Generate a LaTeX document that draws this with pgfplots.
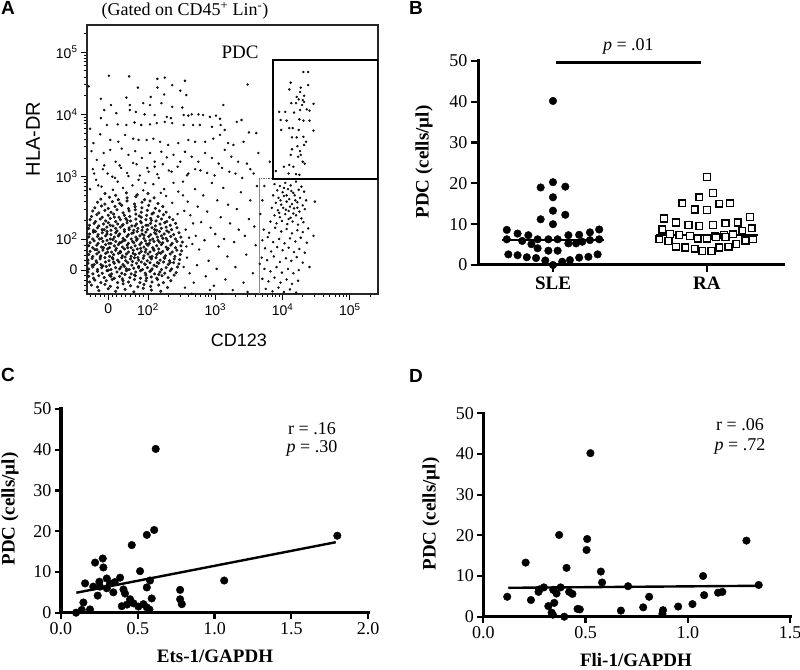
\documentclass[border=0pt]{standalone}
\usepackage{fontspec}
\setmainfont{Liberation Serif}
\setsansfont{Liberation Sans}
\usepackage{pgfplots}
\pgfplotsset{compat=1.18}
\newcommand{\fs}[1]{\fontsize{#1}{#1}\selectfont}

\pgfplotsset{
  dotplot/.style={
    axis x line=bottom, axis y line=left,
    axis line style={-, line width=3pt},
    scale only axis, anchor=south west, clip=false,
    tick align=outside, major tick length=6pt,
    major tick style={line width=2.2pt, black},
    tick label style={font=\fs{18}},
    /pgf/number format/assume math mode=true,
    ymin=0, ymax=50, ytick={0,10,...,50},
  },
  dots/.style={only marks, mark=*, mark size=3.8pt, black},
  events/.style={only marks, mark=*, mark size=1.0pt, mark options={draw=none, fill=black!85}},
  core/.style={only marks, mark=*, mark size=1.35pt, mark options={draw=none, fill=black!80}},
}
% thick axis lines drawn on top
\newcommand{\thickaxes}{%
  \draw[line width=3pt, line cap=rect] (rel axis cs:0,1) -- (rel axis cs:0,0) -- (rel axis cs:1,0);}

\begin{document}
\begin{tikzpicture}
\useasboundingbox (0pt,0pt) rectangle (800pt,669pt);

% ---------------- A: flow cytometry ----------------
\begin{axis}[
  at={(87pt,375pt)}, anchor=south west, scale only axis,
  width=291pt, height=269pt,
  xmin=1.094, xmax=5.418, ymin=1.117, ymax=5.435,
  axis line style={line width=1.3pt, black!85},
  tick pos=left, tick align=outside,
  major tick length=6pt, minor tick length=3pt,
  tick style={black, line width=0.9pt},
  xtick={1.41,2,3,4,5},
  xticklabels={0,10\textsuperscript{2},10\textsuperscript{3},10\textsuperscript{4},10\textsuperscript{5}},
  ytick={1.5,2,3,4,5},
  yticklabels={0,10\textsuperscript{2},10\textsuperscript{3},10\textsuperscript{4},10\textsuperscript{5}},
  minor xtick={1.15,1.22,1.29,1.35,1.47,1.53,1.60,1.67,1.74,1.81,1.88,1.94,
    2.30,2.48,2.60,2.70,2.78,2.85,2.90,2.95,3.30,3.48,3.60,3.70,3.78,3.85,3.90,3.95,
    4.30,4.48,4.60,4.70,4.78,4.85,4.90,4.95,5.30},
  minor ytick={1.18,1.26,1.34,1.42,1.58,1.66,1.74,1.82,1.90,
    2.30,2.48,2.60,2.70,2.78,2.85,2.90,2.95,3.30,3.48,3.60,3.70,3.78,3.85,3.90,3.95,
    4.30,4.48,4.60,4.70,4.78,4.85,4.90,4.95,5.30},
  tick label style={font=\sffamily\fs{14}},
]
% main cluster
\addplot[core] coordinates {
(1.27,1.17) (1.41,1.20) (1.52,1.16) (1.66,1.19) (1.79,1.15) (1.93,1.21) (2.05,1.18) (2.19,1.16)
(1.16,1.26) (1.25,1.23) (1.36,1.27) (1.44,1.24) (1.55,1.22) (1.63,1.28) (1.74,1.25) (1.85,1.23) (1.94,1.27) (2.04,1.24) (2.16,1.26) (2.29,1.22)
(1.13,1.31) (1.21,1.34) (1.30,1.30) (1.38,1.33) (1.47,1.35) (1.55,1.30) (1.63,1.33) (1.71,1.31) (1.80,1.35) (1.88,1.30) (1.97,1.33) (2.06,1.31) (2.14,1.35) (2.23,1.30) (2.34,1.33)
(1.12,1.40) (1.19,1.37) (1.27,1.41) (1.35,1.38) (1.43,1.42) (1.50,1.37) (1.58,1.40) (1.66,1.43) (1.73,1.38) (1.81,1.41) (1.89,1.37) (1.97,1.42) (2.05,1.39) (2.13,1.37) (2.21,1.41) (2.30,1.38) (2.39,1.42)
(1.11,1.47) (1.18,1.44) (1.25,1.48) (1.32,1.45) (1.39,1.49) (1.46,1.44) (1.54,1.47) (1.61,1.45) (1.68,1.49) (1.75,1.44) (1.82,1.47) (1.89,1.49) (1.96,1.45) (2.03,1.48) (2.10,1.44) (2.18,1.47) (2.25,1.45) (2.33,1.49) (2.42,1.46)
(1.12,1.52) (1.18,1.55) (1.25,1.51) (1.31,1.54) (1.38,1.56) (1.45,1.51) (1.52,1.54) (1.58,1.52) (1.65,1.56) (1.72,1.51) (1.79,1.53) (1.86,1.56) (1.92,1.51) (1.99,1.54) (2.06,1.52) (2.13,1.56) (2.20,1.51) (2.27,1.54) (2.35,1.52) (2.44,1.55)
(1.11,1.61) (1.17,1.58) (1.24,1.62) (1.30,1.59) (1.37,1.63) (1.43,1.58) (1.50,1.61) (1.57,1.63) (1.63,1.59) (1.70,1.62) (1.76,1.58) (1.83,1.61) (1.90,1.63) (1.96,1.59) (2.03,1.62) (2.09,1.58) (2.16,1.61) (2.23,1.63) (2.30,1.59) (2.38,1.62) (2.46,1.60)
(1.11,1.66) (1.17,1.69) (1.23,1.65) (1.29,1.68) (1.36,1.70) (1.42,1.65) (1.48,1.68) (1.55,1.66) (1.61,1.70) (1.67,1.65) (1.74,1.68) (1.80,1.70) (1.86,1.66) (1.93,1.69) (1.99,1.65) (2.05,1.68) (2.12,1.70) (2.18,1.66) (2.25,1.69) (2.32,1.65) (2.39,1.68) (2.47,1.67)
(1.12,1.75) (1.18,1.72) (1.24,1.76) (1.30,1.73) (1.37,1.77) (1.43,1.72) (1.49,1.75) (1.56,1.77) (1.62,1.73) (1.68,1.76) (1.75,1.72) (1.81,1.75) (1.87,1.77) (1.94,1.73) (2.00,1.76) (2.06,1.72) (2.13,1.75) (2.19,1.77) (2.26,1.73) (2.33,1.76) (2.40,1.72) (2.48,1.75)
(1.14,1.80) (1.21,1.83) (1.27,1.79) (1.33,1.82) (1.40,1.84) (1.46,1.79) (1.52,1.82) (1.59,1.80) (1.65,1.84) (1.71,1.79) (1.78,1.82) (1.84,1.84) (1.90,1.80) (1.97,1.83) (2.03,1.79) (2.09,1.82) (2.16,1.84) (2.22,1.80) (2.29,1.83) (2.36,1.79) (2.43,1.82) (2.50,1.81)
(1.12,1.89) (1.18,1.86) (1.24,1.90) (1.31,1.87) (1.37,1.91) (1.43,1.86) (1.50,1.89) (1.56,1.91) (1.62,1.87) (1.69,1.90) (1.75,1.86) (1.81,1.89) (1.88,1.91) (1.94,1.87) (2.00,1.90) (2.07,1.86) (2.13,1.89) (2.20,1.91) (2.27,1.87) (2.34,1.90) (2.41,1.86) (2.49,1.89)
(1.14,1.94) (1.20,1.97) (1.26,1.93) (1.33,1.96) (1.39,1.98) (1.45,1.93) (1.52,1.96) (1.58,1.94) (1.64,1.98) (1.71,1.93) (1.77,1.96) (1.83,1.98) (1.90,1.94) (1.96,1.97) (2.02,1.93) (2.09,1.96) (2.15,1.98) (2.22,1.94) (2.29,1.97) (2.36,1.93) (2.43,1.96) (2.51,1.95)
(1.12,2.03) (1.18,2.00) (1.25,2.04) (1.31,2.01) (1.37,2.05) (1.44,2.00) (1.50,2.03) (1.56,2.05) (1.63,2.01) (1.69,2.04) (1.75,2.00) (1.82,2.03) (1.88,2.05) (1.94,2.01) (2.01,2.04) (2.07,2.00) (2.14,2.03) (2.20,2.05) (2.27,2.01) (2.34,2.04) (2.41,2.00) (2.49,2.03)
(1.13,2.08) (1.19,2.11) (1.26,2.07) (1.32,2.10) (1.39,2.12) (1.45,2.07) (1.52,2.10) (1.58,2.08) (1.65,2.12) (1.71,2.07) (1.78,2.10) (1.84,2.12) (1.91,2.08) (1.97,2.11) (2.04,2.07) (2.10,2.10) (2.17,2.12) (2.24,2.08) (2.31,2.11) (2.38,2.07) (2.46,2.10)
(1.12,2.17) (1.19,2.14) (1.25,2.18) (1.32,2.15) (1.39,2.19) (1.45,2.14) (1.52,2.17) (1.59,2.19) (1.65,2.15) (1.72,2.18) (1.79,2.14) (1.85,2.17) (1.92,2.19) (1.99,2.15) (2.06,2.18) (2.13,2.14) (2.20,2.17) (2.27,2.19) (2.35,2.15) (2.43,2.18)
(1.13,2.22) (1.20,2.25) (1.27,2.21) (1.34,2.24) (1.41,2.26) (1.48,2.21) (1.55,2.24) (1.62,2.22) (1.69,2.26) (1.76,2.21) (1.83,2.24) (1.90,2.26) (1.97,2.22) (2.04,2.25) (2.11,2.21) (2.18,2.24) (2.25,2.26) (2.33,2.22) (2.41,2.25)
(1.14,2.31) (1.22,2.28) (1.29,2.32) (1.37,2.29) (1.44,2.33) (1.52,2.28) (1.59,2.31) (1.67,2.33) (1.74,2.29) (1.82,2.32) (1.89,2.28) (1.97,2.31) (2.04,2.33) (2.12,2.29) (2.20,2.32) (2.28,2.28) (2.37,2.31)
(1.16,2.36) (1.24,2.39) (1.32,2.35) (1.41,2.38) (1.49,2.40) (1.57,2.35) (1.65,2.38) (1.73,2.36) (1.82,2.40) (1.90,2.35) (1.98,2.38) (2.06,2.40) (2.15,2.36) (2.23,2.39) (2.32,2.35)
(1.18,2.45) (1.27,2.42) (1.36,2.46) (1.45,2.43) (1.54,2.47) (1.63,2.42) (1.72,2.45) (1.81,2.47) (1.90,2.43) (1.99,2.46) (2.08,2.42) (2.17,2.45) (2.27,2.43)
(1.21,2.50) (1.31,2.53) (1.41,2.49) (1.51,2.52) (1.61,2.54) (1.71,2.49) (1.81,2.52) (1.91,2.50) (2.01,2.54) (2.11,2.49) (2.22,2.52)
(1.25,2.59) (1.36,2.56) (1.47,2.60) (1.58,2.57) (1.69,2.61) (1.80,2.56) (1.91,2.59) (2.03,2.61) (2.15,2.57)
(1.30,2.64) (1.43,2.67) (1.56,2.63) (1.69,2.66) (1.82,2.68) (1.95,2.63) (2.09,2.66)
(1.36,2.73) (1.52,2.70) (1.68,2.74) (1.84,2.71) (2.00,2.73)
};
% denser core
\addplot[core] coordinates {
(1.33,1.57) (1.41,1.50) (1.49,1.63) (1.60,1.55) (1.68,1.52) (1.77,1.64) (1.86,1.54) (1.95,1.60) (2.05,1.50) (2.14,1.62)
(1.29,1.71) (1.40,1.79) (1.47,1.70) (1.59,1.78) (1.66,1.71) (1.78,1.77) (1.85,1.70) (1.96,1.79) (2.03,1.71) (2.16,1.78) (2.24,1.70)
(1.34,1.86) (1.42,1.93) (1.53,1.85) (1.61,1.95) (1.70,1.86) (1.79,1.94) (1.89,1.85) (1.98,1.92) (2.08,1.84) (2.17,1.95)
(1.28,2.00) (1.39,2.08) (1.48,1.99) (1.57,2.07) (1.66,1.98) (1.76,2.09) (1.84,2.00) (1.94,2.06) (2.03,1.98) (2.12,2.08) (2.22,2.01)
(1.35,2.15) (1.44,2.22) (1.54,2.13) (1.63,2.23) (1.72,2.15) (1.81,2.21) (1.91,2.14) (2.00,2.22) (2.10,2.15)
(1.20,1.59) (1.24,1.83) (1.22,2.12) (2.30,1.85) (2.33,1.62) (2.28,2.13)
(1.45,1.40) (1.62,1.36) (1.80,1.42) (1.98,1.37) (2.16,1.43)
(1.50,2.35) (1.69,2.30) (1.87,2.37) (2.05,2.30)
};
% upper band and sparse events
\addplot[events] coordinates {
(1.14,2.80) (1.23,2.95) (1.31,2.84) (1.40,3.05) (1.48,2.79) (1.55,2.92) (1.63,2.82) (1.71,3.01) (1.77,2.86) (1.86,2.95)
(1.93,2.78) (2.01,3.08) (2.08,2.88) (2.16,2.98) (2.24,2.80) (2.31,3.10) (2.38,2.90) (2.45,2.76) (1.18,3.12) (1.35,3.18)
(1.60,3.14) (1.83,3.20) (2.10,3.16) (2.27,2.69) (2.36,2.58) (2.44,2.40) (1.26,2.86) (1.51,2.98) (1.96,2.90) (2.19,2.74)
(1.20,3.05) (1.33,3.12) (1.47,3.00) (1.58,3.18) (1.69,3.06) (1.78,3.22) (1.88,3.02) (1.99,3.14) (2.14,3.04) (2.22,3.20)
(2.35,3.08) (2.44,3.16) (2.58,3.02) (2.70,3.12) (2.88,3.06) (3.10,3.14) (3.30,3.05) (3.52,3.12)
(1.42,4.62) (1.72,4.61) (2.14,4.57) (2.25,4.59) (1.85,4.43) (2.14,4.43) (2.36,4.47) (2.55,4.54) (2.48,4.38) (2.24,4.32)
(2.57,4.31) (3.48,4.48) (1.68,4.27) (2.04,4.28) (1.45,4.15) (1.73,4.15) (1.93,4.18) (2.03,4.15) (2.20,4.18) (2.36,4.12)
(2.51,4.11) (3.12,4.15) (1.35,4.07) (1.53,4.02) (1.73,4.07) (1.82,4.04) (1.95,4.00) (2.10,3.99) (2.28,3.96) (2.34,3.94)
(2.53,3.99) (2.60,3.98) (2.65,4.00) (2.75,4.00) (2.82,3.99) (2.92,3.96) (3.01,3.98) (3.07,3.93) (3.32,3.88) (3.39,3.91)
(1.30,3.94) (1.39,3.83) (1.55,3.84) (1.68,3.83) (1.80,3.87) (1.90,3.83) (2.03,3.84) (2.13,3.86) (2.25,3.88) (2.36,3.86)
(2.53,3.83) (2.67,3.83) (2.77,3.83) (2.95,3.80) (3.08,3.83) (3.14,3.75) (3.50,3.71) (3.61,3.70) (1.14,3.77) (1.19,3.54)
(1.29,3.68) (1.44,3.59) (1.56,3.56) (1.66,3.67) (1.78,3.61) (1.86,3.59) (1.98,3.59) (2.08,3.61) (2.18,3.56) (2.30,3.51)
(2.45,3.54) (2.60,3.59) (2.70,3.56) (2.85,3.56) (2.97,3.61) (3.07,3.67) (3.19,3.54) (3.27,3.51) (3.42,3.56) (1.16,3.41)
(1.24,3.27) (1.34,3.38) (1.44,3.43) (1.52,3.24) (1.61,3.45) (1.71,3.35) (1.81,3.41) (1.91,3.30) (2.03,3.38) (2.10,3.24)
(2.20,3.40) (2.28,3.31) (2.38,3.35) (2.48,3.24) (2.55,3.40) (2.65,3.32) (2.75,3.24) (2.85,3.38) (2.95,3.30) (3.05,3.21)
(3.14,3.43) (3.24,3.32) (3.34,3.24) (3.47,3.21) (3.64,3.38) (3.81,3.24) (1.12,4.45) (1.30,4.25)
};
% events between the two clusters
\addplot[events] coordinates {
(2.55,1.22) (2.62,1.45) (2.58,1.70) (2.66,1.92) (2.56,2.15) (2.63,2.38) (2.59,2.60) (2.70,2.80) (2.68,1.30) (2.73,1.58)
(2.76,1.83) (2.71,2.05) (2.79,2.27) (2.74,2.52) (2.82,2.70) (2.86,1.40) (2.90,1.65) (2.84,1.98) (2.93,2.18) (2.88,2.44)
(2.95,2.90) (2.98,1.25) (3.02,1.52) (3.05,1.88) (3.00,2.08) (3.08,2.35) (3.03,2.62) (3.12,2.82) (3.15,1.35) (3.18,1.72)
(3.13,2.00) (3.22,2.25) (3.19,2.55) (3.26,1.18) (3.30,1.55) (3.28,1.95) (3.35,2.15) (3.32,2.48) (3.38,2.75) (3.42,1.30)
(3.46,1.75) (3.44,2.05) (3.50,2.32) (3.52,2.62) (3.56,1.45) (3.60,1.90) (3.58,2.20) (3.62,2.85) (2.52,2.92) (2.60,3.05)
(2.78,3.10) (2.99,3.02) (3.21,3.08) (3.40,2.98) (3.57,3.05) (2.65,1.12) (2.92,1.18) (3.10,1.12) (3.48,1.15) (2.61,2.02)
(2.67,2.25) (2.53,1.55) (2.57,1.88) (2.54,2.45) (2.52,2.70)
};
% CD123+ cluster
\addplot[events] coordinates {
(3.88,2.88) (3.96,2.85) (4.04,2.90) (4.12,2.86) (4.20,2.92) (4.28,2.84) (3.92,2.78) (4.00,2.75) (4.08,2.80) (4.16,2.74)
(4.24,2.79) (4.32,2.76) (3.86,2.70) (3.94,2.66) (4.02,2.69) (4.10,2.64) (4.18,2.70) (4.26,2.66) (4.35,2.62) (3.90,2.58)
(3.98,2.55) (4.06,2.60) (4.14,2.56) (4.22,2.59) (4.30,2.54) (3.84,2.50) (3.93,2.46) (4.01,2.50) (4.09,2.45) (4.17,2.49)
(4.25,2.44) (4.33,2.48) (3.88,2.38) (3.96,2.35) (4.04,2.40) (4.12,2.34) (4.20,2.38) (4.28,2.33) (3.82,2.28) (3.91,2.25)
(3.99,2.29) (4.07,2.24) (4.15,2.28) (4.23,2.23) (4.31,2.27) (4.02,2.82) (4.13,2.77) (4.06,2.70) (4.19,2.62) (3.97,2.62)
(4.11,2.52) (4.05,2.47) (4.16,2.41) (3.95,2.42) (4.22,2.50) (4.09,2.32)
(3.72,2.15) (3.80,2.10) (3.89,2.18) (3.98,2.12) (4.06,2.16) (4.14,2.09) (4.22,2.14) (4.30,2.11) (4.38,2.17) (3.70,1.98)
(3.78,2.03) (3.86,1.95) (3.95,2.00) (4.03,1.93) (4.11,2.01) (4.19,1.96) (4.27,2.02) (4.36,1.94) (3.74,1.85) (3.83,1.80)
(3.92,1.87) (4.00,1.82) (4.09,1.86) (4.17,1.79) (4.25,1.84) (4.33,1.78) (3.69,1.70) (3.77,1.66) (3.87,1.72) (3.96,1.63)
(4.05,1.69) (4.13,1.65) (4.21,1.71) (4.30,1.62) (3.73,1.52) (3.82,1.48) (3.91,1.55) (3.99,1.46) (4.08,1.52) (4.16,1.45)
(4.24,1.50) (4.40,1.55) (3.70,1.36) (3.79,1.32) (3.88,1.38) (3.97,1.30) (4.06,1.35) (4.14,1.28) (4.23,1.33) (3.75,1.20)
(3.85,1.16) (3.94,1.22) (4.02,1.15) (4.11,1.19) (4.20,1.14) (4.46,2.05) (4.48,2.60) (3.67,2.40) (3.70,2.62) (3.73,2.85)
(3.66,1.60)
};
% PDC gate
\addplot[events] coordinates {
(4.31,4.68) (4.38,4.68) (4.12,4.51) (4.27,4.43) (4.38,4.47) (4.10,4.40) (4.26,4.36) (4.21,4.28) (4.32,4.30) (4.24,4.24)
(4.30,4.23) (4.32,4.20) (4.13,4.18) (4.20,4.18) (4.29,4.15) (4.46,4.17) (3.95,4.04) (4.04,4.04) (4.26,4.07) (4.36,4.08)
(4.40,4.06) (4.17,4.03) (3.97,3.91) (4.06,3.90) (4.25,3.92) (4.31,3.90) (4.40,3.90) (4.10,3.78) (4.15,3.78) (4.24,3.75)
(3.98,3.75) (4.46,3.74) (4.14,3.63) (4.21,3.63) (4.31,3.64) (4.35,3.56) (4.32,3.51) (4.14,3.44) (4.26,3.41) (4.27,3.35)
(4.23,3.32) (4.12,3.35) (4.30,3.24) (4.33,3.21) (4.10,3.19) (4.16,3.16) (4.02,3.16) (4.22,3.49) (4.09,3.05) (4.20,3.04)
(4.25,3.03) (3.90,3.09)
};
\draw[black!45, line width=0.7pt] (axis cs:3.654,1.117) -- (axis cs:3.654,2.974);
\draw[black!60, line width=0.7pt, densely dotted] (axis cs:3.654,2.974) -- (axis cs:3.857,2.974);
\draw[line width=2.6pt] (axis cs:3.857,2.963) rectangle (axis cs:5.418,4.873);
\end{axis}
\node[font=\fs{18}, anchor=base] at (185pt,653pt) {(Gated on CD45\textsuperscript{+} Lin\textsuperscript{-})};
\node[font=\fs{19}, anchor=base] at (240pt,610pt) {PDC};
\node[font=\sffamily\fs{20}, rotate=90] at (33pt,530pt) {HLA-DR};
\node[font=\sffamily\fs{18}] at (239pt,329pt) {CD123};

% ---------------- B: SLE vs RA ----------------
\begin{axis}[dotplot,
  at={(478pt,404pt)}, width=305pt, height=204pt,
  xmin=-0.487, xmax=1.494,
  xtick={0,1}, xticklabels={\textbf{SLE},\textbf{RA}},
  major tick length=7pt,
  xticklabel style={font=\fs{19}, yshift=-1pt},
]
\addplot[line width=2pt] coordinates {(-0.33,6.2) (0.33,6.2)};
\addplot[line width=2pt] coordinates {(0.67,7.4) (1.33,7.4)};
\addplot[dots] coordinates {
(0,40.2) (-0.08,19.0) (0,20.3) (0.08,19.2) (0,16.6) (0,13.3) (0.08,12.3) (-0.08,11.2) (0,10.0)
(-0.30,8.6) (0.30,8.7) (-0.23,7.7) (-0.16,7.3) (0.10,7.3) (0.17,7.4) (0.24,8.0)
(-0.30,6.3) (-0.20,5.9) (-0.14,5.1) (-0.10,6.3) (-0.03,6.3) (0.03,6.3) (0.10,5.3) (0.15,5.3) (0.19,5.7) (0.24,6.1) (0.30,6.3)
(-0.10,4.1) (-0.03,3.5) (0.03,3.5)
(-0.29,2.6) (-0.23,2.4) (-0.17,1.9) (-0.11,1.7) (-0.05,1.1) (0,0.0) (0.06,0.8) (0.11,1.2) (0.17,1.8) (0.23,2.0) (0.29,2.6)
};
\addplot[only marks, mark=square*, mark size=3.4pt, mark options={fill=white, draw=black, line width=1.4pt}] coordinates {
(1,21.6) (0.95,16.6) (1.04,17.6) (0.84,15.1) (1.15,15.1) (0.92,13.6) (1,13.5) (1.08,15.0)
(0.72,11.4) (1.28,11.8) (0.80,10.4) (0.88,9.8) (0.95,9.6) (1.04,9.8) (1.12,10.2) (1.20,10.4)
(0.71,8.7) (1.29,9.0) (0.76,7.6) (0.82,7.4) (0.89,7.1) (1.05,7.1) (1.11,7.4) (1.17,7.5) (1.23,8.4)
(0.69,6.3) (0.75,5.9) (0.94,6.5) (1,6.5) (1.06,6.8) (1.12,6.9) (1.25,6.0) (1.30,6.3)
(0.80,4.5) (0.86,4.3) (0.92,4.0) (0.97,3.4) (1.03,3.4) (1.08,4.3) (1.14,4.5) (1.19,5.1)
};
\addplot[line width=3pt] coordinates {(0.02,49.7) (0.96,49.7)};
\node[font=\fs{18}] at (axis cs:0.49,53.6) {\textit{p} = .01};
\thickaxes
\end{axis}
\node[font=\bfseries\fs{19}, rotate=90] at (424pt,507pt) {PDC (cells/µl)};

% ---------------- C: Ets-1 ----------------
\begin{axis}[dotplot,
  at={(61pt,56.3pt)}, width=307pt, height=203.7pt,
  xmin=0, xmax=2, xtick={0,0.5,...,2},
  xticklabel style={/pgf/number format/.cd, fixed, fixed zerofill, precision=1},
]
\addplot[dots] coordinates {
(0.617,40.2) (1.80,18.9) (1.063,7.9) (0.607,20.3) (0.559,19.1) (0.461,16.6) (0.222,12.3) (0.272,13.3) (0.276,11.1)
(0.515,10.2) (0.385,8.6) (0.298,8.4) (0.157,7.2) (0.25,7.6) (0.32,7.2) (0.21,6.4) (0.254,6.4) (0.298,6.0) (0.407,5.7)
(0.341,5.0) (0.559,6.2) (0.58,7.9) (0.417,4.7) (0.239,4.2) (0.591,3.5) (0.776,5.6) (0.776,3.3) (0.787,2.1) (0.146,2.5)
(0.45,3.3) (0.396,1.6) (0.472,2.3) (0.504,1.5) (0.537,2.1) (0.559,1.3) (0.576,0.8) (0.189,0.8) (0.135,0.7) (0.098,0)
(0.43,2.0) (0.35,7.5)
};
\addplot[line width=2.4pt] coordinates {(0.10,4.9) (1.79,17.3)};
\thickaxes
\end{axis}
\node[font=\fs{18}] at (312pt,240pt) {r = .16};
\node[font=\fs{18}] at (312pt,221pt) {\textit{p} = .30};
\node[font=\bfseries\fs{19}, rotate=90] at (10pt,160pt) {PDC (cells/µl)};
\node[font=\bfseries\fs{19}, anchor=base] at (215pt,6pt) {Ets-1/GAPDH};

% ---------------- D: Fli-1 ----------------
\begin{axis}[dotplot,
  at={(483.3pt,52.3pt)}, width=306.7pt, height=203.4pt,
  xmin=0, xmax=1.5, xtick={0,0.5,1,1.5},
  xticklabel style={/pgf/number format/.cd, fixed, fixed zerofill, precision=1},
]
\addplot[dots] coordinates {
(0.524,40.2) (1.287,18.7) (1.347,7.8) (0.371,20.1) (0.508,19.1) (0.505,16.4) (0.207,13.3) (0.407,12.0) (0.575,11.1)
(1.075,10.0) (0.581,8.4) (0.708,7.5) (0.117,4.9) (0.233,4.1) (0.274,6.7) (0.296,7.2) (0.27,6.1) (0.342,6.6) (0.358,5.7)
(0.378,7.2) (0.42,6.1) (0.436,5.6) (0.347,3.4) (0.318,2.6) (0.334,1.0) (0.396,0) (0.461,1.9) (0.472,1.8) (0.673,1.5)
(0.782,2.3) (0.811,4.9) (0.879,1.6) (0.876,0.7) (0.953,2.5) (1.023,3.1) (1.08,5.3) (1.148,5.9) (1.169,6.1) (0.34,0.5)
};
\addplot[line width=2.4pt] coordinates {(0.122,7.1) (1.344,7.6)};
\thickaxes
\end{axis}
\node[font=\fs{18}] at (740pt,244pt) {r = .06};
\node[font=\fs{18}] at (740pt,223pt) {\textit{p} = .72};
\node[font=\bfseries\fs{19}, rotate=90] at (431pt,155pt) {PDC (cells/µl)};
\node[font=\bfseries\fs{19}, anchor=base] at (636pt,3pt) {Fli-1/GAPDH};

% panel letters
\node[font=\sffamily\bfseries\fs{19}] at (8pt,661pt) {A};
\node[font=\sffamily\bfseries\fs{19}] at (416pt,661pt) {B};
\node[font=\sffamily\bfseries\fs{19}] at (8pt,294pt) {C};
\node[font=\sffamily\bfseries\fs{19}] at (416pt,293pt) {D};
\end{tikzpicture}
\end{document}
